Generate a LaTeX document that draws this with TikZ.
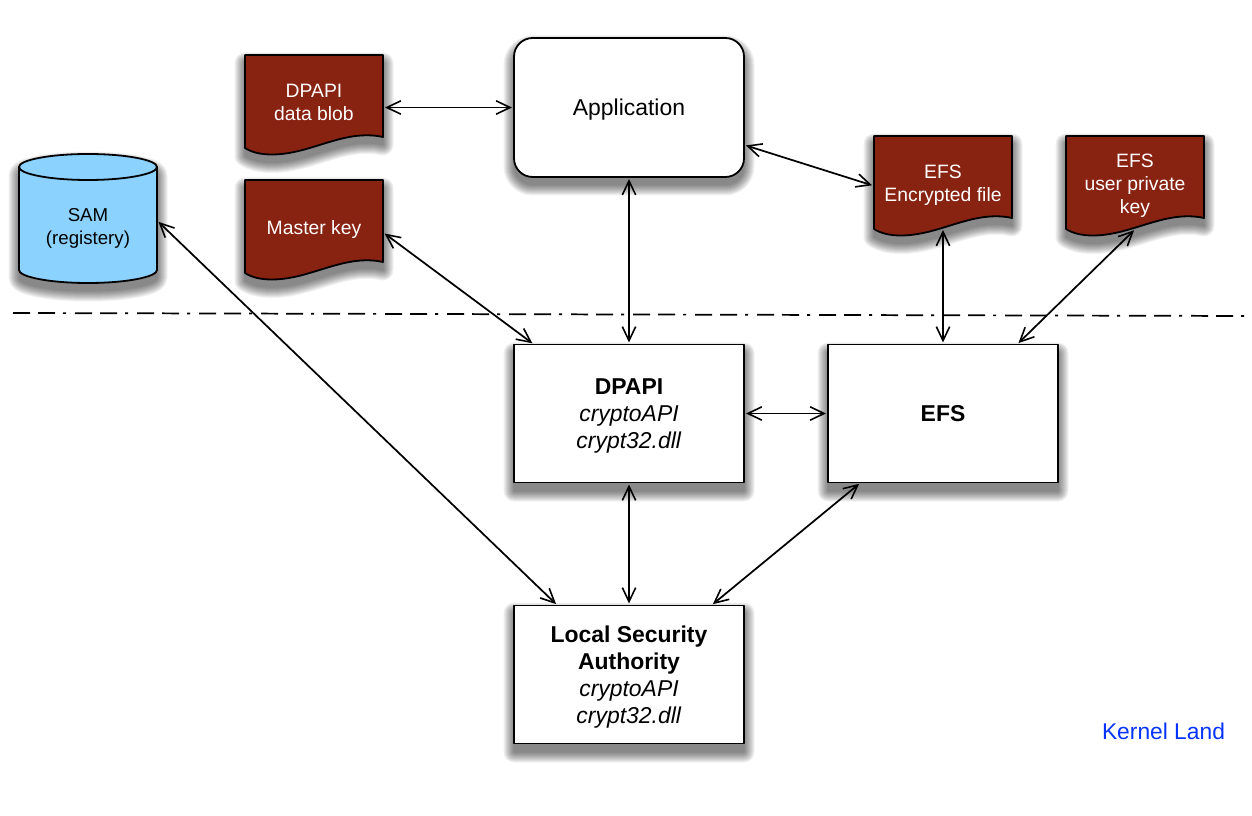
\documentclass[tikz,border=0pt]{standalone}
\usepackage{fontspec}
\setmainfont{Liberation Sans}
\usetikzlibrary{arrows.meta,calc}
\definecolor{docred}{HTML}{882211}
\definecolor{samblue}{HTML}{8BD2FF}
\definecolor{kernblue}{HTML}{0433FF}
\tikzset{
  x=0.75pt,y=-0.75pt,
  every node/.style={inner sep=0pt,outer sep=0pt},
  outline/.style={draw=black,line width=1.35pt,line join=round},
  boxnode/.style={outline,fill=white,minimum width=172.5pt,minimum height=103.5pt,align=center,font=\fontsize{17.2}{20.2}\selectfont},
  appnode/.style={boxnode,rounded corners=14pt,minimum height=104.25pt},
  docnode/.style={minimum width=103.5pt,minimum height=71.25pt,align=center,text=white,font=\fontsize{14.5}{17.25}\selectfont},
  samnode/.style={minimum width=103.5pt,minimum height=84.75pt,align=center,font=\fontsize{14}{17.25}\selectfont},
  link/.style={draw=black,line width=1.3pt,{Straight Barb[length=10.5pt,width=10pt,line width=1.2pt]}-{Straight Barb[length=10.5pt,width=10pt,line width=1.2pt]},shorten <=1.5pt,shorten >=1.5pt},
  divider/.style={draw=black,line width=1.3pt,dash pattern=on 12.75pt off 6pt on 12.75pt off 6pt on 2.25pt off 6.75pt},
}
% soft shadow: a stack of translucent layers, offset downward
\newcommand{\softshadow}[1]{%
  \foreach \w in {1,3,...,21}{%
    \begin{scope}[transparency group,opacity=.055]
      \path[fill=black,draw=black,line width=\w*0.75pt,line join=round,yshift=-6pt] #1;
    \end{scope}
  }%
}
% struts that centre a text block on its capitals
\newcommand{\hi}{\rule{0pt}{.96em}}
\newcommand{\lo}{\rule[-.244em]{0pt}{.244em}}
\newcommand{\docpath}[2]{(#1-69,#2-47.5) -- (#1+69,#2-47.5) -- (#1+69,#2+34.5) .. controls (#1+30,#2+26) and (#1-3,#2+52) .. (#1-42,#2+52) .. controls (#1-53,#2+52) and (#1-62,#2+50) .. (#1-69,#2+45.5) -- cycle}
\newcommand{\rectpath}[4]{(#1,#2) rectangle (#3,#4)}
\begin{document}
\begin{tikzpicture}
\useasboundingbox (0,0) rectangle (1252,816);
% shadows
\softshadow{[rounded corners=14pt] \rectpath{514}{38}{744}{177}}
\softshadow{\rectpath{514}{345}{744}{483}}
\softshadow{\rectpath{828}{345}{1058}{483}}
\softshadow{\rectpath{514}{605}{744}{744}}
\softshadow{\docpath{314}{102.5}}
\softshadow{\docpath{314}{227.5}}
\softshadow{\docpath{943}{183.5}}
\softshadow{\docpath{1135}{183.5}}
\softshadow{(19,167) .. controls (19,160) and (50,154) .. (88,154) .. controls (126,154) and (157,160) .. (157,167) -- (157,270) .. controls (157,277) and (126,283) .. (88,283) .. controls (50,283) and (19,277) .. (19,270) -- cycle}
% documents
\draw[outline,fill=docred] \docpath{314}{102.5};
\draw[outline,fill=docred] \docpath{314}{227.5};
\draw[outline,fill=docred] \docpath{943}{183.5};
\draw[outline,fill=docred] \docpath{1135}{183.5};
% cylinder
\draw[outline,fill=samblue] (19,167) -- (19,270) .. controls (19,277) and (50,283) .. (88,283) .. controls (126,283) and (157,277) .. (157,270) -- (157,167) .. controls (157,160) and (126,154) .. (88,154) .. controls (50,154) and (19,160) .. (19,167) -- cycle;
\draw[outline] (19,167) .. controls (19,174) and (50,180) .. (88,180) .. controls (126,180) and (157,174) .. (157,167);
% nodes
\node[appnode] (app) at (629,107.5) {\hi Application\lo};
\node[boxnode] (dpapi) at (629,413.5) {\hi\textbf{DPAPI}\\\textit{cryptoAPI}\\\textit{crypt32.dll}\lo};
\node[boxnode] (efs) at (943,413.5) {\hi\textbf{EFS}\lo};
\node[boxnode] (lsa) at (629,674.5) {\hi\textbf{Local Security}\\\textbf{Authority}\\\textit{cryptoAPI}\\\textit{crypt32.dll}\lo};
\node[docnode] (blob) at (314,102.5) {\hi DPAPI\\data blob\lo};
\node[docnode] (master) at (314,227.5) {\hi Master key\lo};
\node[docnode] (encfile) at (943,183.5) {\hi EFS\\Encrypted file\lo};
\node[docnode] (userkey) at (1135,183.5) {\hi EFS\\user private\\key\lo};
\node[samnode] (sam) at (88,226.5) {\hi SAM\\(registery)\lo};
\node[text=kernblue,font=\fontsize{17.1}{20}\selectfont] (kernel) at (1163.5,731) {Kernel Land};
\coordinate (divleft) at (13,313);
\coordinate (divright) at (1250,316);
% divider
\draw[divider] (divleft) -- (divright);
% connectors
\draw[link] (blob.east |- app.west) -- (app.west);
\draw[link] (app.-18.06) -- (encfile.182.1);
\draw[link] (app.south) -- (dpapi.north);
\draw[link] (master.-4.56) -- (dpapi.144.3);
\draw[link,shorten <=-0.75pt] (encfile.south) -- (efs.north);
\draw[link,shorten <=-0.75pt] (userkey.-92.4) -- (efs.43.7);
\draw[link] (dpapi.east) -- (efs.west);
\draw[link] (dpapi.south) -- (lsa.north);
\draw[link] (efs.-140.2) -- (lsa.40.2);
\draw[link] (sam.5.4) -- (lsa.136.8);
\end{tikzpicture}
\end{document}
